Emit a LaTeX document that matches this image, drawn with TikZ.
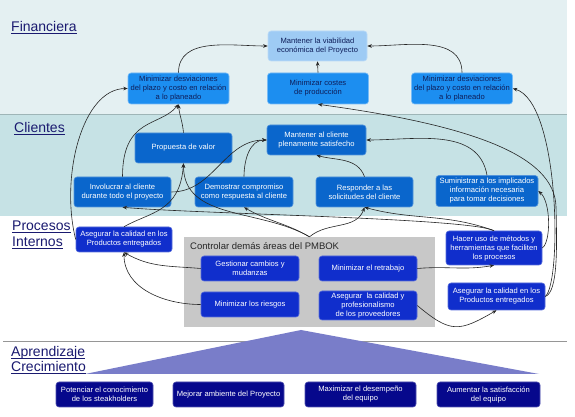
\documentclass[tikz,border=0pt]{standalone}
\usepackage{fontspec}
\setmainfont{Liberation Sans}
\usepackage{tikz}
\usetikzlibrary{positioning,arrows.meta}
\definecolor{bFin}{RGB}{228,240,242}
\definecolor{bCli}{RGB}{198,226,229}
\definecolor{cViab}{RGB}{158,203,244}
\definecolor{cFin}{RGB}{28,142,240}
\definecolor{cCli}{RGB}{10,102,204}
\definecolor{cPro}{RGB}{16,46,204}
\definecolor{cApr}{RGB}{6,8,140}
\definecolor{cCtrl}{RGB}{200,200,200}
\definecolor{cTri}{RGB}{121,125,201}
\definecolor{cTtl}{RGB}{26,26,112}
\definecolor{cTxt}{RGB}{14,30,90}
\definecolor{cSep}{RGB}{150,150,150}
\newcommand\ulttl[1]{\setbox0=\hbox{#1}\rlap{\rule[-2pt]{\wd0}{0.9pt}}\box0}
\tikzset{
  box/.style={rectangle, rounded corners=3pt, align=center, inner sep=1pt,
              font=\fontsize{7.6}{9}\selectfont, line width=0.6pt},
  finbox/.style={box, fill=cFin, draw=cFin!60!white, text=cTxt,
                 minimum width=101pt, minimum height=31pt},
  viabox/.style={finbox, fill=cViab, draw=cViab!70!white,
                 minimum width=99pt, minimum height=30pt},
  clibox/.style={box, fill=cCli, draw=cCli!70!white, text=white,
                 minimum width=97pt, minimum height=30pt},
  probox/.style={box, fill=cPro, draw=cPro!70!white, text=white,
                 minimum width=98pt, minimum height=25pt},
  aprbox/.style={box, fill=cApr, draw=cApr!70!white, text=white,
                 minimum height=25pt},
  ctrlbox/.style={rectangle, fill=cCtrl, minimum width=251pt, minimum height=90pt},
  ttl/.style={anchor=base west, inner sep=0pt, text=cTtl,
              font=\fontsize{14}{16}\selectfont},
  flow/.style={-{Stealth[length=4.5pt,width=3.6pt]}, draw=black!85, line width=0.6pt},
}

\begin{document}
\begin{tikzpicture}[x=1pt, y=1pt, on grid]
  \useasboundingbox (0,0) rectangle (575,417);
  % --- perspective bands ---
  \fill[white] (0,0) rectangle (575,417);
  \fill[bFin] (0,303) rectangle (567,417);
  \fill[bCli] (0,201) rectangle (567,303);
  \draw[bCli!80!black, line width=0.4pt] (0,303) -- (567,303);
  \draw[cSep, line width=0.7pt] (3,76) -- (567,76);
  \fill[cTri] (301,87) -- (85,43) -- (539,43) -- cycle;

  \node[ttl] (tFin) at (11,385) {\ulttl{Financiera}};
  \node[ttl] (tCli) at (14,284) {\ulttl{Clientes}};
  \node[ttl] (tPro) at (12,186) {\ulttl{Procesos}};
  \node[ttl] (tInt) at (12,170) {\ulttl{Internos}};
  \node[ttl] (tApr) at (11,60)  {\ulttl{Aprendizaje}};
  \node[ttl] (tCre) at (11,45)  {\ulttl{Crecimiento}};

  % --- financiera ---
  \node[viabox] (viab) at (317.5,371) {Mantener la viabilidad\\económica del Proyecto};
  \node[finbox] (mindesv1) at (178.5,328.5)
    {Minimizar desviaciones\\del plazo y costo en relación\\a lo planeado};
  \node[finbox, right=139.5pt of mindesv1] (mincost) {Minimizar costes\\de producción};
  \node[finbox, right=144pt of mincost] (mindesv2)
    {Minimizar desviaciones\\del plazo y costo en relación\\a lo planeado};

  % --- clientes ---
  \node[clibox] (propval) at (183.5,269) {Propuesta de valor};
  \node[clibox, minimum width=99pt] (mantcli) at (316.5,277)
    {Mantener al cliente\\plenamente satisfecho};
  \node[clibox] (involuc) at (122.5,225) {Involucrar al cliente\\durante todo el proyecto};
  \node[clibox, right=121.5pt of involuc, minimum width=98pt] (demost)
    {Demostrar compromiso\\como respuesta al cliente};
  \node[clibox, right=120.5pt of demost] (respond) {Responder a las\\solicitudes del cliente};
  \node[clibox, minimum width=102pt, minimum height=31pt] (suminis) at (487,226)
    {Suministrar a los implicados\\información necesaria\\para tomar decisiones};

  % --- procesos internos ---
  \node[probox, minimum width=96pt] (asegur1) at (124,177.5)
    {Asegurar la calidad en los\\Productos entregados};
  \node[ctrlbox] (ctrl) at (309.5,135) {};
  \node[anchor=base west, inner sep=0pt, text=black!85,
        font=\fontsize{9.5}{11}\selectfont] (ctrlttl) at (190,167)
    {Controlar demás áreas del PMBOK};
  \node[probox] (gestion) at (250,148.5) {Gestionar cambios y\\mudanzas};
  \node[probox, right=118pt of gestion] (minret) {Minimizar el retrabajo};
  \node[probox, below=36pt of gestion] (minries) {Minimizar los riesgos};
  \node[probox, minimum height=29pt] (asegprov) at (368,111.5)
    {Asegurar\ \ la calidad y\\profesionalismo\\de los proveedores};
  \node[probox, minimum width=96pt, minimum height=34pt] (hacer) at (494,169)
    {Hacer uso de métodos y\\herramientas que faciliten\\los procesos};
  \node[probox, minimum width=97pt, minimum height=27pt] (asegur2) at (496.5,120.5)
    {Asegurar la calidad en los\\Productos entregados};

  % --- aprendizaje y crecimiento ---
  \node[aprbox, minimum width=97pt] (potenc) at (104.5,22.5)
    {Potenciar el conocimiento\\de los steakholders};
  \node[aprbox, minimum width=111pt] (mejorar) at (228.5,22.5) {Mejorar ambiente del Proyecto};
  \node[aprbox, minimum width=111pt, right=132pt of mejorar] (maximiz)
    {Maximizar el desempeño\\del equipo};
  \node[aprbox, minimum width=103pt] (aumentar) at (488.5,22.5)
    {Aumentar la satisfacción\\del equipo};

  % --- relaciones causa-efecto ---
  \draw[flow] (mindesv1.north) to[out=90,in=180] (viab.west);
  \draw[flow] (mincost.north) -- (viab.south);
  \draw[flow] (mindesv2.north) to[out=90,in=0] (viab.east);
  \draw[flow] (asegur1.west) .. controls (60,240) and (82,328) .. (mindesv1.west);
  \draw[flow] (involuc.north) .. controls (122.5,300) and (160,290) .. (mindesv1.south);
  \draw[flow] (propval.north) to[out=95,in=-85] (mindesv1.south);
  \draw[flow] (involuc.east) to[out=0,in=180] (mantcli.west);
  \draw[flow] (demost.north) to[out=90,in=180] (mantcli.west);
  \draw[flow] (respond.north) to[out=110,in=-15] (mantcli.south);
  \draw[flow] (suminis.north) to[out=100,in=0] (mantcli.east);
  \draw[flow] (asegur1.north) .. controls (150,205) and (180,205) .. (propval.south);
  \draw[flow] (ctrl.north) to[out=150,in=-90] (propval.south);
  \draw[flow] (ctrl.north) to[out=150,in=-30] (demost.south);
  \draw[flow] (ctrl.north) to[out=40,in=-110] (respond.south);
  \draw[flow] (hacer.north) to[out=160,in=-15] (respond.south);
  \draw[flow] (hacer.north) .. controls (470,199) and (200,203) .. (involuc.south);
  \draw[flow] (hacer.east) .. controls (551,175) and (551,215) .. (suminis.east);
  \draw[flow] (asegur2.east) .. controls (562,135) and (560,315) .. (mindesv2.east);
  \draw[flow] (asegur2.east) .. controls (558,125) and (557,170) .. (556,210)
    .. controls (555,262) and (470,292) .. (mincost.south);
  \draw[flow] (gestion.west) to[out=175,in=-30] (asegur1.south);
  \draw[flow] (minries.west) to[out=180,in=-90] (asegur1.south);
  \draw[flow] (minret.east) to[out=5,in=190] (hacer.south);
  \draw[flow] (asegprov.east) to[out=-40,in=-150,looseness=1.4] (asegur2.south);
\end{tikzpicture}
\end{document}
